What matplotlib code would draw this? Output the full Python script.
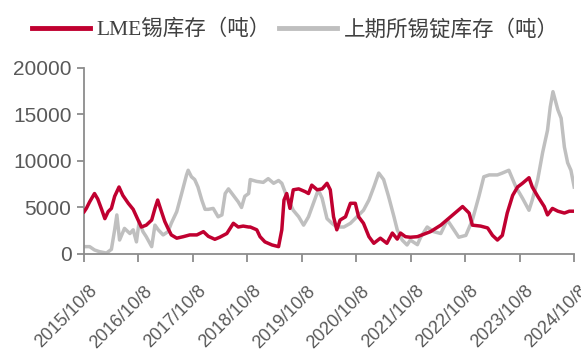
import matplotlib
matplotlib.use("Agg")
import matplotlib.pyplot as plt
import matplotlib.transforms as mtransforms

# LME tin stocks (t), x in decimal years
lme_t = [2015.77, 2015.81, 2015.87, 2015.96, 2016.02, 2016.09, 2016.15, 2016.21, 2016.27, 2016.33,
         2016.41, 2016.48, 2016.58, 2016.67, 2016.76, 2016.82, 2016.91, 2017.01, 2017.07, 2017.12,
         2017.19, 2017.25, 2017.31, 2017.37, 2017.47, 2017.59, 2017.71, 2017.84, 2017.96, 2018.05,
         2018.17, 2018.26, 2018.39, 2018.51, 2018.60, 2018.69, 2018.79, 2018.82, 2018.94, 2019.00,
         2019.09, 2019.22, 2019.34, 2019.40, 2019.44, 2019.49, 2019.55, 2019.61, 2019.71, 2019.83,
         2019.89, 2019.95, 2020.05, 2020.14, 2020.23, 2020.29, 2020.35, 2020.41, 2020.47, 2020.57,
         2020.66, 2020.75, 2020.81, 2020.90, 2021.00, 2021.09, 2021.21, 2021.33, 2021.43, 2021.52,
         2021.58, 2021.67, 2021.76, 2021.89, 2022.13, 2022.32, 2022.50, 2022.72, 2022.84, 2022.90,
         2023.05, 2023.18, 2023.27, 2023.36, 2023.45, 2023.54, 2023.64, 2023.73, 2023.82, 2023.94,
         2024.00, 2024.10, 2024.22, 2024.28, 2024.37, 2024.47, 2024.59, 2024.68, 2024.77]
lme_v = [4550, 4900, 5600, 6500, 5900, 4800, 3800, 4550, 4900, 6200,
         7200, 6300, 5450, 4800, 3650, 2900, 3100, 3650, 4900, 5800,
         4550, 3500, 2750, 2050, 1700, 1860, 2050, 2050, 2400, 1900,
         1580, 1800, 2200, 3300, 2900, 3000, 2900, 2900, 2600, 1860,
         1300, 970, 790, 2600, 5800, 6500, 4900, 6900, 7000, 6700,
         6500, 7400, 6900, 7000, 7600, 6900, 4000, 2600, 3650, 4000,
         5450, 5450, 4000, 3300, 1860, 1150, 1700, 1150, 2250, 1600,
         2250, 1860, 1800, 1860, 2400, 3100, 4000, 5100, 4400, 3100,
         3000, 2800, 2000, 1500, 2000, 4400, 6300, 7200, 7600, 8200,
         7200, 6200, 5100, 4200, 4900, 4600, 4400, 4600, 4600]

# SHFE tin ingot stocks (t)
shfe_t = [2015.77, 2015.87, 2015.96, 2016.05, 2016.18, 2016.27, 2016.33, 2016.37, 2016.42, 2016.51,
          2016.61, 2016.67, 2016.73, 2016.78, 2016.85, 2016.91, 2017.01, 2017.07, 2017.13, 2017.22,
          2017.31, 2017.37, 2017.47, 2017.56, 2017.65, 2017.68, 2017.74, 2017.80, 2017.86, 2017.93,
          2017.99, 2018.05, 2018.14, 2018.23, 2018.30, 2018.36, 2018.42, 2018.51, 2018.60, 2018.66,
          2018.72, 2018.79, 2018.82, 2018.94, 2019.06, 2019.15, 2019.25, 2019.34, 2019.40, 2019.49,
          2019.61, 2019.71, 2019.80, 2019.89, 2019.98, 2020.07, 2020.14, 2020.23, 2020.32, 2020.41,
          2020.54, 2020.66, 2020.78, 2020.90, 2021.00, 2021.09, 2021.18, 2021.27, 2021.36, 2021.46,
          2021.52, 2021.61, 2021.70, 2021.76, 2021.89, 2021.95, 2022.07, 2022.19, 2022.32, 2022.44,
          2022.56, 2022.65, 2022.78, 2022.90, 2023.02, 2023.11, 2023.21, 2023.36, 2023.45, 2023.57,
          2023.70, 2023.82, 2023.94, 2024.00, 2024.10, 2024.19, 2024.28, 2024.33, 2024.38, 2024.47,
          2024.53, 2024.59, 2024.65, 2024.71, 2024.77]
shfe_v = [790, 790, 430, 250, 100, 500, 2600, 4200, 1500, 2750,
          2200, 2600, 1300, 3500, 2400, 1860, 790, 3100, 2600, 2050,
          2400, 3300, 4550, 6500, 8500, 9000, 8300, 8000, 7200, 5800,
          4800, 4800, 4900, 4000, 4200, 6500, 7000, 6300, 5600, 5000,
          6200, 6500, 8000, 7800, 7700, 8100, 7600, 7900, 7600, 6200,
          4700, 4000, 3100, 4000, 5450, 6900, 6000, 3800, 3300, 2900,
          2900, 3300, 4000, 4700, 5800, 7200, 8700, 8000, 6200, 4000,
          2600, 1500, 970, 1500, 1000, 1800, 2900, 2400, 2200, 3650,
          2600, 1800, 2000, 3650, 6200, 8300, 8500, 8500, 8700, 9000,
          7200, 6000, 4700, 5800, 8000, 10900, 13300, 15800, 17450, 15500,
          14600, 11500, 9800, 9000, 7200]

tick_pos = [2015.767 + k for k in range(10)]
tick_labels = ["%d/10/8" % (2015 + k) for k in range(10)]

RED = "#C00030"
GREY = "#BFBFBF"
AXIS = "#8C8C8C"
TEXT = "#595959"

fig = plt.figure(figsize=(5.81, 3.53), dpi=100)
ax = fig.add_axes([0.1446, 0.2805, 0.8434, 0.527])

ax.plot(lme_t, lme_v, color=RED, lw=2.5, label="LME锡库存（吨）", zorder=3)
ax.plot(shfe_t, shfe_v, color=GREY, lw=2.5, label="上期所锡锭库存（吨）", zorder=2)

ax.set_xlim(tick_pos[0], tick_pos[-1])
ax.set_ylim(0, 20000)
ax.set_yticks([0, 5000, 10000, 15000, 20000])
ax.set_xticks(tick_pos)
ax.set_xticklabels([])
# slanted date labels, placed a little right of and below each tick
shift = mtransforms.ScaledTranslation(0.05, -0.285, fig.dpi_scale_trans)
for p, lab in zip(tick_pos, tick_labels):
    ax.text(p, 0, lab, transform=ax.get_xaxis_transform() + shift,
            rotation=45, ha="right", va="top", rotation_mode="anchor",
            fontsize=13, color=TEXT, family="Liberation Sans", clip_on=False)
for lbl in ax.get_yticklabels():
    lbl.set_fontsize(15)
    lbl.set_color(TEXT)
    lbl.set_family("Liberation Sans")

for s in ["top", "right"]:
    ax.spines[s].set_visible(False)
for s in ["left", "bottom"]:
    ax.spines[s].set_color(AXIS)
    ax.spines[s].set_linewidth(1.3)
ax.tick_params(axis="x", length=6, width=1.3, color=AXIS, pad=4)
ax.tick_params(axis="y", length=5, width=1.3, color=AXIS, pad=4)

leg = fig.legend(loc="upper center", bbox_to_anchor=(0.508, 1.0), ncol=2,
                 frameon=False, handlelength=2.7, handletextpad=0.3,
                 columnspacing=0.4,
                 prop={"family": ["Liberation Serif", "Noto Sans CJK SC"], "size": 15.5})
for h in leg.get_lines():
    h.set_linewidth(3.5)
for t in leg.get_texts():
    t.set_color("#404040")

fig.savefig("out.png", dpi=100)
